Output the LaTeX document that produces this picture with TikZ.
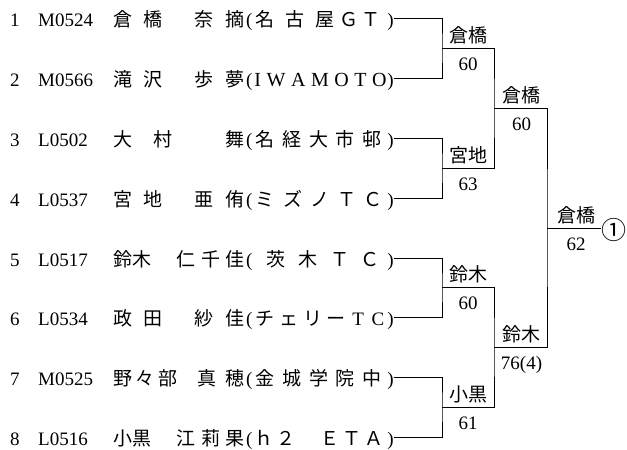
\documentclass[tikz,border=0pt]{standalone}
\usepackage{fontspec}
\setmainfont{Liberation Serif}
\newfontfamily\cjk{Noto Sans CJK JP}
\newcommand\fw[1]{\makebox[17pt]{\cjk #1}}
\newcommand\hw[1]{\makebox[15pt]{\rmfamily #1}}
\newcommand\hf[1]{\hskip 0pt plus #1fill\relax}
\begin{document}
\begin{tikzpicture}[x=1pt,y=-1pt,
  every node/.style={inner sep=0pt, font=\fontsize{19}{21}\selectfont},
  rowtxt/.style={text height=20pt, text depth=4pt},
  lw/.style={rowtxt, anchor=west},
  le/.style={rowtxt, anchor=east},
  lab/.style={anchor=base, font=\fontsize{19}{21}\selectfont\cjk},
  score/.style={anchor=base},
  conn/.style={line width=0.9pt}]
\fill[white] (0,0) rectangle (627,450);
\useasboundingbox (0,0) rectangle (627,450);

% row 1
\node[lw] (n1) at (10,18) {1};
\node[lw] (k1) at (38,18) {M0524};
\node[lw] (s1) at (113,18) {\makebox[49pt]{\cjk 倉\hfill 橋}};
\node[le] (g1) at (245,18) {\makebox[50pt]{\cjk 奈\hfill 摘}};
\node[le] (t1) at (394,18) {(\hspace{3pt}\makebox[130pt]{\cjk 名\hfill 古\hfill 屋\hf{.5}\fw{Ｇ}\hf{.5}\fw{Ｔ}\hf{.5}}\hspace{2pt})};
% row 2
\node[lw] (n2) at (10,78) {2};
\node[lw] (k2) at (38,78) {M0566};
\node[lw] (s2) at (113,78) {\makebox[49pt]{\cjk 滝\hfill 沢}};
\node[le] (g2) at (245,78) {\makebox[50pt]{\cjk 歩\hfill 夢}};
\node[le] (t2) at (394,78) {(\hspace{2pt}\makebox[132pt]{\fontsize{20}{22}\selectfont I\hfill W\hfill A\hfill M\hfill O\hfill T\hfill O}\hspace{1pt})};
% row 3
\node[lw] (n3) at (10,138) {3};
\node[lw] (k3) at (38,138) {L0502};
\node[lw] (s3) at (113,138) {\makebox[59pt]{\cjk 大\hfill 村}};
\node[le] (g3) at (245,138) {\makebox[50pt][r]{\cjk 舞}};
\node[le] (t3) at (394,138) {(\hspace{3pt}\makebox[130pt]{\cjk 名\hfill 経\hfill 大\hfill 市\hfill 邨\hf{.5}}\hspace{2pt})};
% row 4
\node[lw] (n4) at (10,198) {4};
\node[lw] (k4) at (38,198) {L0537};
\node[lw] (s4) at (113,198) {\makebox[49pt]{\cjk 宮\hfill 地}};
\node[le] (g4) at (245,198) {\makebox[50pt]{\cjk 亜\hfill 侑}};
\node[le] (t4) at (394,198) {(\hspace{3pt}\makebox[130pt]{\cjk ミ\hfill ズ\hfill ノ\hfill\fw{Ｔ}\hfill\fw{Ｃ}\hf{.5}}\hspace{2pt})};
% row 5
\node[lw] (n5) at (10,258) {5};
\node[lw] (k5) at (38,258) {L0517};
\node[lw] (s5) at (113,258) {\cjk 鈴木};
\node[le] (g5) at (245,258) {\makebox[68pt]{\cjk 仁\hfill 千\hfill 佳}};
\node[le] (t5) at (394,258) {(\hspace{3pt}\makebox[130pt]{\cjk\hf{.8}茨\hfill 木\hfill\fw{Ｔ}\hfill\fw{Ｃ}\hf{.5}}\hspace{2pt})};
% row 6
\node[lw] (n6) at (10,317) {6};
\node[lw] (k6) at (38,317) {L0534};
\node[lw] (s6) at (113,317) {\makebox[49pt]{\cjk 政\hfill 田}};
\node[le] (g6) at (245,317) {\makebox[50pt]{\cjk 紗\hfill 佳}};
\node[le] (t6) at (394,317) {(\hspace{3pt}\makebox[130pt]{\cjk チ\hfill ェ\hfill リ\hfill ー\hfill\hw{T}\hfill\hw{C}}\hspace{2pt})};
% row 7
\node[lw] (n7) at (10,377) {7};
\node[lw] (k7) at (38,377) {M0525};
\node[lw] (s7) at (113,377) {\makebox[64pt]{\cjk 野\hfill 々\hfill 部}};
\node[le] (g7) at (245,377) {\makebox[47pt]{\cjk 真\hfill 穂}};
\node[le] (t7) at (394,377) {(\hspace{3pt}\makebox[130pt]{\cjk 金\hfill 城\hfill 学\hfill 院\hfill 中\hf{.5}}\hspace{2pt})};
% row 8
\node[lw] (n8) at (10,437) {8};
\node[lw] (k8) at (38,437) {L0516};
\node[lw] (s8) at (113,437) {\cjk 小黒};
\node[le] (g8) at (245,437) {\makebox[68pt]{\cjk 江\hfill 莉\hfill 果}};
\node[le] (t8) at (394,437) {(\hspace{3pt}\makebox[130pt]{\fw{ｈ}\hfill\fw{２}\hfill\fw{　}\hfill\fw{Ｅ}\hfill\fw{Ｔ}\hfill\fw{Ａ}\hf{.5}}\hspace{2pt})};

% joints
\coordinate (a1) at (442,48);
\coordinate (a2) at (442,168);
\coordinate (a3) at (442,287.5);
\coordinate (a4) at (442,407);
\coordinate (b1) at (494,108);
\coordinate (b2) at (494,347);
\coordinate (c1) at (547,228);
\node[font=\fontsize{25}{27}\selectfont\cjk] (champ) at (614,230) {①};

% connectors
\draw[conn] (t1.east) -| (a1) |- (t2.east);
\draw[conn] (t3.east) -| (a2) |- (t4.east);
\draw[conn] (t5.east) -| (a3) |- (t6.east);
\draw[conn] (t7.east) -| (a4) |- (t8.east);
\draw[conn] (a1) -| (b1) |- (a2);
\draw[conn] (a3) -| (b2) |- (a4);
\draw[conn] (b1) -| (c1) |- (b2);
\draw[conn] (c1) -- (c1 -| champ.west);

% labels
\node[lab] (w1) at (468,42) {倉橋};
\node[score] (p1) at (468,70) {60};
\node[lab] (w2) at (468,162) {宮地};
\node[score] (p2) at (468,190) {63};
\node[lab] (w3) at (468,281.5) {鈴木};
\node[score] (p3) at (468,309.5) {60};
\node[lab] (w4) at (468,401) {小黒};
\node[score] (p4) at (468,429) {61};
\node[lab] (w5) at (521.5,102) {倉橋};
\node[score] (p5) at (521.5,130) {60};
\node[lab] (w6) at (521.5,341) {鈴木};
\node[score] (p6) at (521.5,369) {76(4)};
\node[lab] (w7) at (576,222) {倉橋};
\node[score] (p7) at (576,250) {62};
\end{tikzpicture}
\end{document}
